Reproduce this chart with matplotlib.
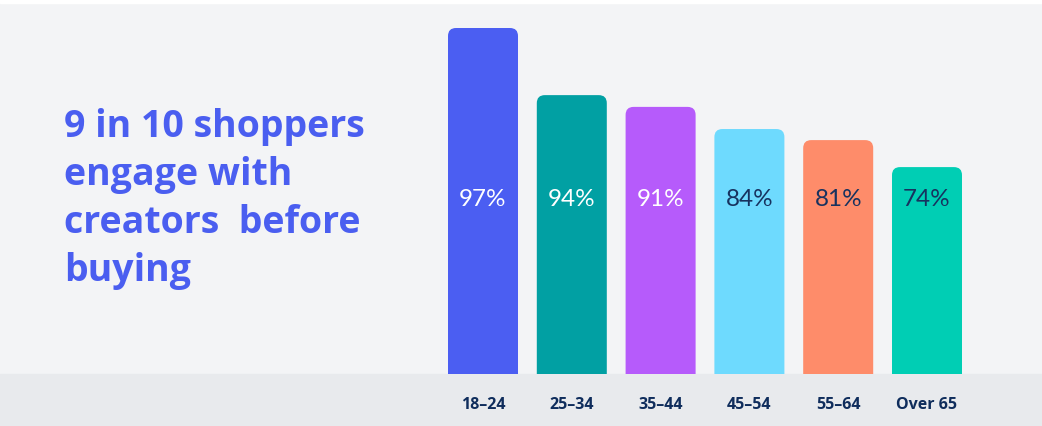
import matplotlib.pyplot as plt
from matplotlib.patches import FancyBboxPatch, Rectangle

# data
age_groups = ['18–24', '25–34', '35–44', '45–54', '55–64', 'Over 65']
share = [97, 94, 91, 84, 81, 74]
# bar heights as drawn in the graphic (not proportional to share)
bar_height = [100, 80.6, 77.2, 70.8, 67.6, 59.8]
colors = ['#4b5ef2', '#01a0a3', '#b65bfb', '#6edafe', '#fe8c6a', '#00ceb4']
label_colors = ['white', 'white', 'white', '#17325f', '#17325f', '#17325f']
title_lines = ['9 in 10 shoppers', 'engage with', 'creators  before', 'buying']

W, H = 1042, 427
fig = plt.figure(figsize=(W / 100, H / 100), dpi=100)
fig.patch.set_facecolor('#f3f4f6')

# white sliver at the top and grey band at the bottom
fig.patches.append(Rectangle((0, 1 - 4 / H), 1, 4 / H, transform=fig.transFigure,
                             color='white', zorder=0))
fig.patches.append(Rectangle((0, 0), 1, 52 / H, transform=fig.transFigure,
                             color='#e8eaed', zorder=0))

# axes placed in pixels: bar centres at 483 .. 927, baseline y=375, top y=29
pitch = 88.8
left = 483 - pitch / 2
ax = fig.add_axes([left / W, 52 / H, 6 * pitch / W, 346 / H])
ax.set_zorder(2)
ax.set_facecolor('none')
ax.set_xlim(-0.5, 5.5)
ax.set_ylim(0, 100)
for s in ax.spines.values():
    s.set_visible(False)
ax.set_yticks([])

x = range(len(age_groups))
bars = ax.bar(x, bar_height, width=70 / pitch, color=colors)

# swap plain bars for ones with rounded top corners
r = 8 / pitch
aspect = (100 / 346) / (1 / pitch)
for b, c in zip(bars, colors):
    bx, by = b.get_x(), b.get_y()
    bw, bh = b.get_width(), b.get_height()
    b.set_visible(False)
    p = FancyBboxPatch((bx, by - 10), bw, bh + 10,
                       boxstyle=f'round,pad=0,rounding_size={r}',
                       mutation_aspect=aspect, fc=c, ec='none', clip_on=True)
    ax.add_patch(p)

for i, (v, lc) in enumerate(zip(share, label_colors)):
    ax.text(i, 175 / 3.46, f'{v}%', ha='center', va='center', color=lc,
            fontsize=17.5, family='Lato', fontweight='normal')

ax.set_xticks(list(x))
ax.set_xticklabels(age_groups, fontsize=11.5, family='Open Sans', fontweight='bold',
                   color='#0f2d5c')
ax.tick_params(axis='x', length=0, pad=16)

for k, line in enumerate(title_lines):
    fig.text(64 / W, 1 - (137 + 48 * k) / H, line,
             ha='left', va='baseline', color='#4a5ef0', fontsize=27,
             family='Open Sans', fontweight='bold')

fig.savefig('out.png', dpi=100, facecolor=fig.get_facecolor())
